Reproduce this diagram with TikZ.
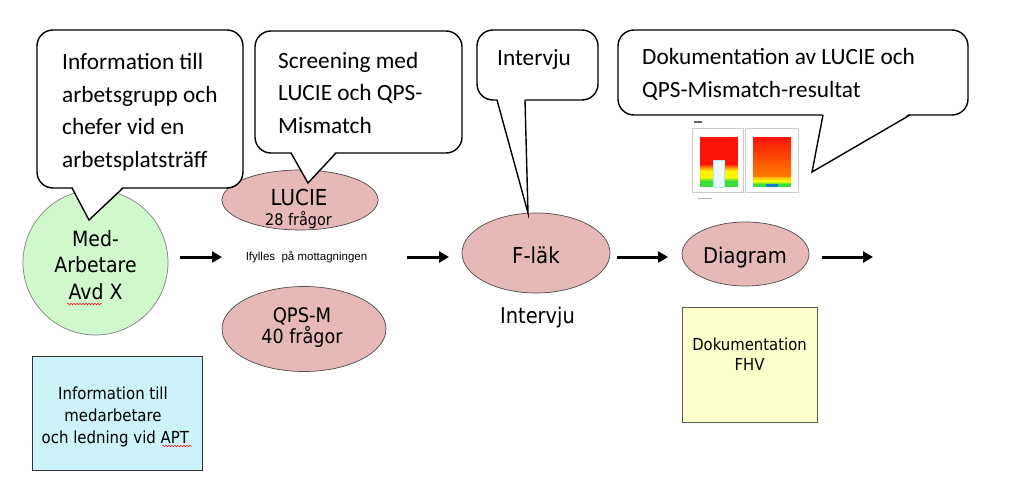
\documentclass[tikz,border=0pt]{standalone}
\usepackage{fontspec}
\setmainfont{Carlito}
\newfontfamily\tah[FakeStretch=0.9]{DejaVu Sans}
\newfontfamily\arl{Liberation Sans}
\usetikzlibrary{arrows.meta,shapes.geometric,decorations.pathmorphing}
\definecolor{pinkfill}{RGB}{230,185,184}
\definecolor{greenfill}{RGB}{208,248,204}
\definecolor{bluefill}{RGB}{204,242,250}
\definecolor{yellowfill}{RGB}{255,255,204}
\definecolor{chartred}{RGB}{250,20,10}
\definecolor{chartgreen}{RGB}{60,220,60}
\tikzset{
  cbox/.style={draw, line width=1.4pt, fill=white, rounded corners=16pt, inner sep=0pt},
  cline/.style={line width=1.4pt, line join=miter},
  ctext/.style={font=\fontsize{23.3}{32.4}\selectfont, align=left, inner sep=0pt, anchor=base west},
  pinkell/.style={ellipse, draw=black!70, line width=0.7pt, fill=pinkfill, inner sep=0pt},
  arr/.style={line width=3pt, -{Triangle[length=10pt,width=11pt]}},
  ttext/.style={inner sep=0pt, anchor=base, align=center},
  squig/.style={red, line width=0.5pt, decorate, decoration={snake, amplitude=0.7pt, segment length=3pt}}
}
\begin{document}
\begin{tikzpicture}[x=1pt, y=-1pt]
\useasboundingbox[fill=white] (0,0) rectangle (1024,479);

% --- main shapes ---
\node[circle, draw=black!50, line width=0.7pt, fill=greenfill, minimum size=145pt, inner sep=0pt] (med) at (95.5,262.5) {};
\node[ttext, font=\tah\fontsize{21}{26.5}\selectfont] (medt) at (95.5,299) {Med-\\Arbetare\\Avd X};
\draw[squig] (67,304) -- (102,304);

\node[pinkell, minimum width=156pt, minimum height=60pt] (lucie) at (300,200) {};
\node[ttext, font=\tah\fontsize{22}{22}\selectfont] (luciet) at (299,205) {LUCIE};
\node[ttext, font=\tah\fontsize{16}{16}\selectfont] (luciet2) at (298.5,225) {28 frågor};

\node[ttext, font=\arl\fontsize{11.5}{12}\selectfont] (ifyll) at (306.5,260) {Ifylles\ \ på mottagningen};

\node[pinkell, minimum width=164pt, minimum height=85pt] (qps) at (304,329) {};
\node[ttext, font=\tah\fontsize{20}{20}\selectfont] (qpst) at (302,322) {QPS-M};
\node[ttext, font=\tah\fontsize{19.5}{20}\selectfont] (qpst2) at (302,343) {40 frågor};

\node[pinkell, minimum width=148pt, minimum height=80pt] (flak) at (536,253) {};
\node[ttext, font=\tah\fontsize{22}{22}\selectfont] (flakt) at (536,263) {F-läk};
\node[ttext, font=\tah\fontsize{21.6}{22}\selectfont] (intv) at (537.5,323) {Intervju};

\node[pinkell, minimum width=127pt, minimum height=64pt] (diag) at (745.5,254) {};
\node[ttext, font=\tah\fontsize{21.7}{22}\selectfont] (diagt) at (745,263) {Diagram};

\node[draw=black!80, line width=0.8pt, fill=bluefill, minimum width=170pt, minimum height=114pt, inner sep=0pt] (info) at (117,413) {};
\node[ttext, font=\tah\fontsize{16.6}{22}\selectfont] (infot) at (113,443) {Information till\\medarbetare\\\ och ledning vid APT};
\draw[squig] (162,446) -- (192,446);

\node[draw=black!65, line width=0.8pt, fill=yellowfill, minimum width=135pt, minimum height=115pt, inner sep=0pt] (fhv) at (749.5,364.5) {};
\node[ttext, font=\tah\fontsize{16.5}{20}\selectfont] (fhvt) at (749.5,370) {Dokumentation\\FHV};

% --- arrows ---
\coordinate (a1s) at (180,257);
\coordinate (a1e) at (222,257);
\coordinate (a2s) at (407,257);
\coordinate (a2e) at (449,257);
\coordinate (a3s) at (617,257);
\coordinate (a3e) at (668,257);
\coordinate (a4s) at (822,257);
\coordinate (a4e) at (873,257);
\draw[arr] (a1s) -- (a1e);
\draw[arr] (a2s) -- (a2e);
\draw[arr] (a3s) -- (a3e);
\draw[arr] (a4s) -- (a4e);

% --- chart image ---
\draw[black!20, line width=0.5pt, fill=white] (692,128) rectangle (743,192);
\fill[chartred] (700,137) rectangle (738,165);
\shade[top color=chartred!60!orange, bottom color=yellow] (700,165) rectangle (738,171);
\fill[yellow] (700,171) rectangle (738,177);
\shade[top color=yellow, bottom color=chartgreen] (700,177) rectangle (738,181);
\fill[chartgreen] (700,181) rectangle (738,187);
\draw[cyan!30, line width=0.5pt, fill=cyan!8] (713,160) rectangle (724,187);
\draw[black!20, line width=0.5pt, fill=white] (745,128) rectangle (798,192);
\shade[top color=chartred, bottom color=orange] (753,137) rectangle (791,177);
\shade[top color=orange!60!yellow, bottom color=yellow] (753,177) rectangle (791,181);
\shade[top color=yellow, bottom color=chartgreen] (753,181) rectangle (791,184);
\fill[chartgreen] (753,184) rectangle (791,187);
\fill[cyan!60!blue] (766,183.5) rectangle (778,187);
\fill[black!60] (694,121) rectangle (702,123);
\fill[black!30] (698,198) rectangle (712,199);

% --- callout 1 ---
\node[cbox, minimum width=206pt, minimum height=158pt] (c1) at (140,109) {};
\coordinate (c1l) at (72,188);
\coordinate (c1r) at (123,188);
\coordinate (c1tip) at (89,220);
\fill[white] ([yshift=2pt]c1l) -- (c1tip) -- ([yshift=2pt]c1r) -- cycle;
\draw[cline] (c1l) -- (c1tip) -- (c1r);
\node[ctext] (c1t) at (62,167) {Information till\\arbetsgrupp och\\chefer vid en\\arbetsplatsträff};

% --- callout 2 ---
\node[cbox, minimum width=207pt, minimum height=122pt] (c2) at (358.5,92) {};
\coordinate (c2l) at (291,153);
\coordinate (c2r) at (336,153);
\coordinate (c2tip) at (308,183);
\fill[white] ([yshift=2pt]c2l) -- (c2tip) -- ([yshift=2pt]c2r) -- cycle;
\draw[cline] (c2l) -- (c2tip) -- (c2r);
\node[ctext] (c2t) at (278,133) {Screening med\\LUCIE och QPS-\\Mismatch};

% --- callout 3 ---
\node[cbox, minimum width=121pt, minimum height=70pt] (c3) at (537.5,65) {};
\coordinate (c3l) at (497,100);
\coordinate (c3r) at (525,100);
\coordinate (c3tip) at (528,213);
\fill[white] ([yshift=2pt]c3l) -- (c3tip) -- ([yshift=2pt]c3r) -- cycle;
\draw[cline] (c3l) -- (c3tip) -- (c3r);
\node[ctext] (c3t) at (497,65) {Intervju};

% --- callout 4 ---
\node[cbox, minimum width=350pt, minimum height=85pt] (c4) at (793,72.5) {};
\coordinate (c4l) at (823,115);
\coordinate (c4r) at (910,115);
\coordinate (c4tip) at (812,172);
\fill[white] ([yshift=2pt]c4l) -- (c4tip) -- ([yshift=2pt]c4r) -- cycle;
\draw[cline] (c4l) -- (c4tip) -- (c4r);
\node[ctext] (c4t) at (642,97) {Dokumentation av LUCIE och\\QPS-Mismatch-resultat};
\end{tikzpicture}
\end{document}
